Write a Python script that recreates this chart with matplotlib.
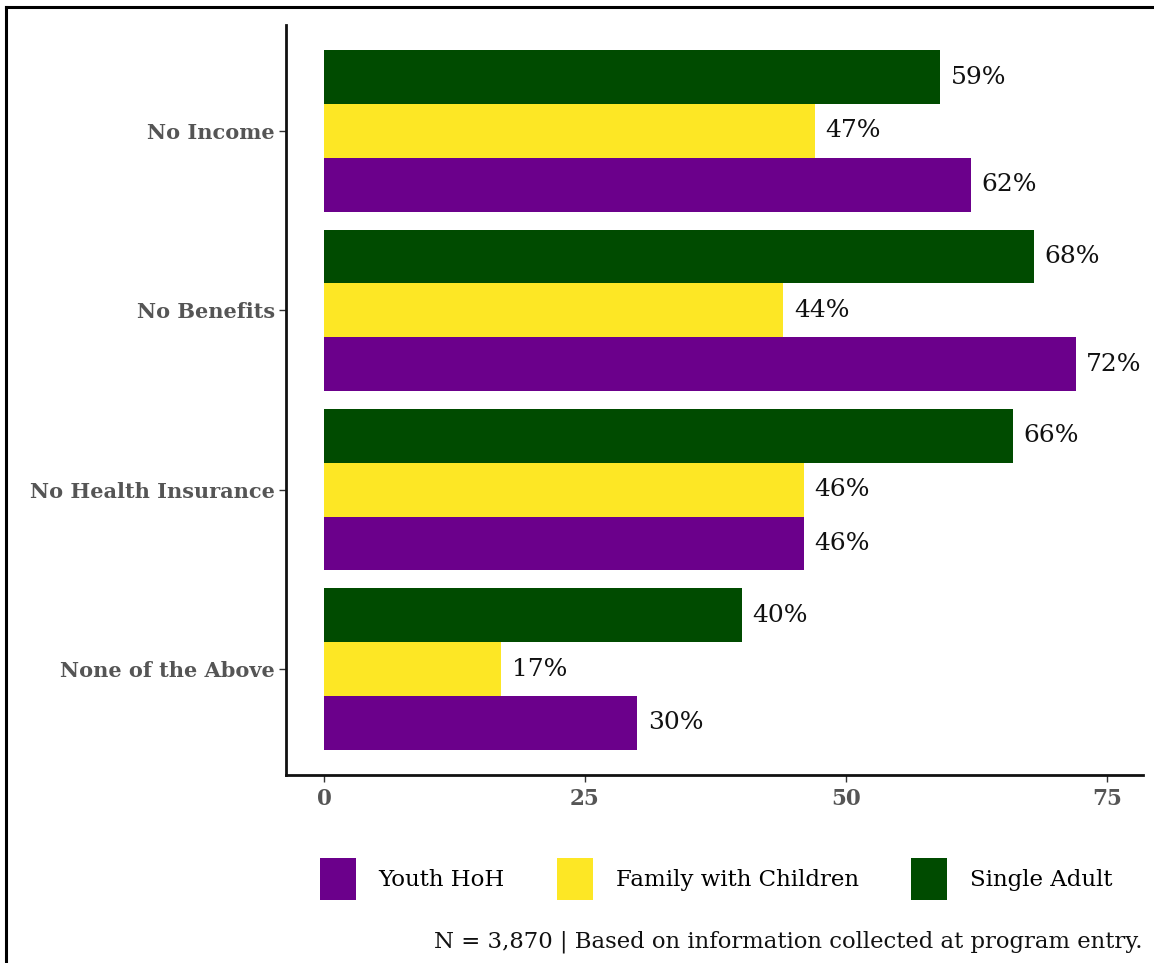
import matplotlib
matplotlib.use("Agg")
import matplotlib.pyplot as plt
import numpy as np
from matplotlib.lines import Line2D
from matplotlib.patches import Patch

categories = ["No Income", "No Benefits", "No Health Insurance", "None of the Above"]
groups = ["Youth HoH", "Family with Children", "Single Adult"]
youth = [62, 72, 46, 30]
family = [47, 44, 46, 17]
single = [59, 68, 66, 40]
colors = ["#6b008b", "#fde725", "#004b00"]
caption = "N = 3,870 | Based on information collected at program entry."

plt.rcParams["font.family"] = ["DejaVu Serif"]

fig = plt.figure(figsize=(11.54, 9.63), dpi=100)
W, H = 1154, 963
ax = fig.add_axes([286 / W, 1 - 775 / H, (1143 - 286) / W, (775 - 25) / H])

y = np.arange(len(categories))
bh = 0.9 / 3
series = [youth, family, single]
offsets = [bh, 0, -bh]
for vals, off, col, name in zip(series, offsets, colors, groups):
    ax.barh(y + off, vals, height=bh, color=col, label=name)
    for yi, v in zip(y, vals):
        ax.text(v + 1, yi + off, f"{v}%", va="center", ha="left",
                fontsize=18, color="#111111")

ax.set_xlim(-3.64, 78.45)
ax.set_ylim(len(categories) - 1 + 0.59, -0.59)
ax.set_yticks(y)
ax.set_yticklabels(categories, fontsize=15, fontweight="bold", color="#555555")
ax.set_xticks([0, 25, 50, 75])
ax.set_xticklabels(["0", "25", "50", "75"], fontsize=15.5, fontweight="bold",
                   color="#555555")
ax.tick_params(axis="both", length=5, width=1, color="#333333")
ax.tick_params(axis="x", pad=4)
ax.tick_params(axis="y", pad=3)
for s in ["top", "right"]:
    ax.spines[s].set_visible(False)
for s in ["left", "bottom"]:
    ax.spines[s].set_linewidth(2)
    ax.spines[s].set_color("#111111")

handles = [Patch(facecolor=c, label=g) for c, g in zip(colors, groups)]
fig.legend(handles=handles, loc="center", bbox_to_anchor=(716 / W, 1 - 879 / H),
           ncol=3, frameon=False, fontsize=16.5, handlelength=1.57, handleheight=2.44,
           handletextpad=1.0, columnspacing=2.27)

fig.text(1143 / W, 1 - 942 / H, caption, ha="right", va="center", fontsize=16.4,
         color="#111111")

# frame lines along top and left edge
fig.add_artist(Line2D([6 / W, 6 / W], [0, 1 - 7 / H], color="black", lw=2.2,
                      transform=fig.transFigure))
fig.add_artist(Line2D([6 / W, 1], [1 - 7 / H, 1 - 7 / H], color="black", lw=2.2,
                      transform=fig.transFigure))

fig.savefig("out.png", dpi=100)
